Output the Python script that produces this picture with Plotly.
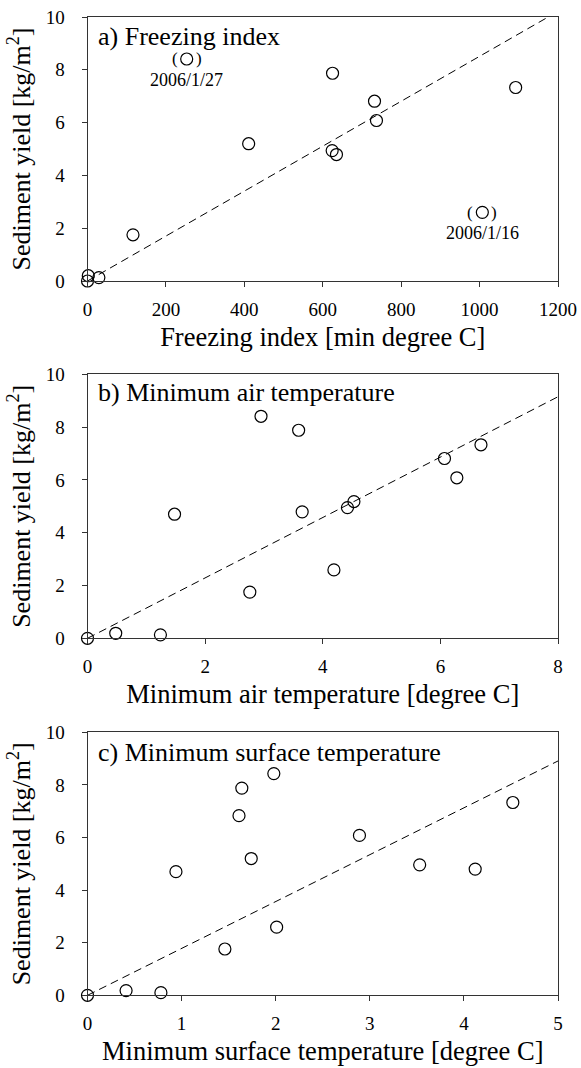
import plotly.graph_objects as go
from plotly.subplots import make_subplots

# ---- data ----
yield_a = [0.0, 0.2, 0.13, 1.75, 5.2, 7.87, 4.94, 4.79, 6.81, 6.08, 7.33]
freeze_a = [0, 2, 29, 116, 411, 625, 624, 635, 732, 737, 1092]
excl_freeze = [253, 1007]
excl_yield = [8.41, 2.60]
excl_labels = ["2006/1/27", "2006/1/16"]
fit_a_x = [0, 1175]
fit_a_y = [0, 10]

air_b = [0.0, 0.48, 1.24, 1.48, 2.76, 2.95, 3.59, 3.65, 4.19, 4.42, 4.53, 6.07, 6.28, 6.69]
yield_b = [0.0, 0.19, 0.13, 4.70, 1.75, 8.41, 7.88, 4.79, 2.59, 4.95, 5.18, 6.81, 6.08, 7.33]
fit_b_x = [0, 8]
fit_b_y = [0, 9.15]

surf_c = [0.0, 0.41, 0.78, 0.94, 1.46, 1.61, 1.64, 1.74, 1.98, 2.01, 2.89, 3.53, 4.12, 4.52]
yield_c = [0.0, 0.18, 0.10, 4.70, 1.76, 6.83, 7.88, 5.20, 8.43, 2.59, 6.08, 4.96, 4.80, 7.33]
fit_c_x = [0, 5]
fit_c_y = [0, 8.91]

panel_titles = ["a) Freezing index", "b) Minimum air temperature", "c) Minimum surface temperature"]
x_titles = ["Freezing index [min degree C]", "Minimum air temperature [degree C]",
            "Minimum surface temperature [degree C]"]
y_title = "Sediment yield [kg/m<sup>2</sup>]"

FONT = "Liberation Serif"
W, H = 581, 1068

fig = make_subplots(rows=3, cols=1)

marker = dict(symbol="circle-open", size=12, color="black", line=dict(width=1.2, color="black"))
dash = dict(color="black", width=1, dash="8px,5px")

series = [
    (freeze_a, yield_a, fit_a_x, fit_a_y),
    (air_b, yield_b, fit_b_x, fit_b_y),
    (surf_c, yield_c, fit_c_x, fit_c_y),
]
for i, (xs, ys, fx, fy) in enumerate(series, start=1):
    fig.add_trace(go.Scatter(x=fx, y=fy, mode="lines", line=dash, showlegend=False,
                             hoverinfo="skip"), row=i, col=1)
    fig.add_trace(go.Scatter(x=xs, y=ys, mode="markers", marker=marker, showlegend=False,
                             cliponaxis=False), row=i, col=1)

fig.add_trace(go.Scatter(x=excl_freeze, y=excl_yield, mode="markers", marker=marker,
                         showlegend=False), row=1, col=1)

# plot-area pixel geometry
left, right = 87.5, 558.0
tops = [17.0, 374.3, 732.3]
bottoms = [281.0, 638.3, 995.3]
x_ranges = [[0, 1200], [0, 8], [0, 5]]
x_dticks = [200, 2, 1]

for i in range(3):
    xa = "xaxis" if i == 0 else f"xaxis{i+1}"
    ya = "yaxis" if i == 0 else f"yaxis{i+1}"
    fig.layout[xa].update(
        domain=[left / W, right / W], range=x_ranges[i], dtick=x_dticks[i], tick0=0,
        showline=True, linecolor="#333", linewidth=1, mirror=True, automargin=False,
        ticks="outside", ticklen=5, tickcolor="#333", showgrid=False, zeroline=False,
        tickfont=dict(family=FONT, size=19, color="black"), ticklabelstandoff=6,
        title=dict(text=x_titles[i], font=dict(family=FONT, size=26.5, color="black"), standoff=8),
    )
    fig.layout[ya].update(
        domain=[1 - bottoms[i] / H, 1 - tops[i] / H], range=[0, 10], dtick=2, tick0=0,
        showline=True, linecolor="#333", linewidth=1, mirror=True, automargin=False,
        ticks="outside", ticklen=5, tickcolor="#333", showgrid=False, zeroline=False,
        tickfont=dict(family=FONT, size=19, color="black"), ticklabelstandoff=13,
        title=dict(text=y_title, font=dict(family=FONT, size=26, color="black"), standoff=7),
    )

label_y = [36.7, 393.0, 752.0]
for i in range(3):
    fig.add_annotation(text=panel_titles[i], xref="paper", yref="paper",
                       x=96 / W, y=1 - label_y[i] / H, xanchor="left", yanchor="middle",
                       showarrow=False, font=dict(family=FONT, size=26, color="black"))

for xv, yv, lab in zip(excl_freeze, excl_yield, excl_labels):
    fig.add_annotation(text="(", x=xv, y=yv, xref="x", yref="y", xshift=-12, showarrow=False,
                       font=dict(family=FONT, size=17, color="black"))
    fig.add_annotation(text=")", x=xv, y=yv, xref="x", yref="y", xshift=12, showarrow=False,
                       font=dict(family=FONT, size=17, color="black"))
    fig.add_annotation(text=lab, x=xv, y=yv, xref="x", yref="y", yshift=-21, showarrow=False,
                       font=dict(family=FONT, size=18, color="black"))

fig.update_layout(width=W, height=H, margin=dict(l=0, r=0, t=0, b=0),
                  paper_bgcolor="white", plot_bgcolor="white",
                  font=dict(family=FONT, color="black"))

fig.write_html("out.html", config={"displayModeBar": False},
               post_script="document.body.style.margin='0';document.body.style.overflow='hidden';")
